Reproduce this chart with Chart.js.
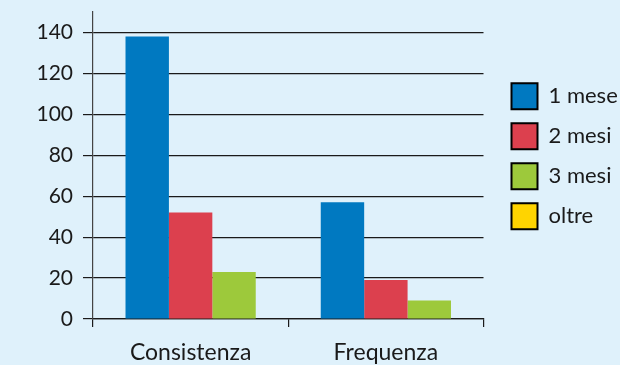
<!DOCTYPE html>
<html>
<head>
<meta charset="utf-8">
<script src="https://cdn.jsdelivr.net/npm/chart.js@4.4.1/dist/chart.umd.min.js"></script>
<style>
  html, body { margin: 0; padding: 0; overflow: hidden; background: #dff1fb; }
  #wrap { position: relative; width: 650px; height: 365px; }
</style>
</head>
<body>
<div id="wrap"><canvas id="durata"></canvas></div>
<script>
// categories and series
const categories = ['Consistenza', 'Frequenza'];
const seriesNames = ['1 mese', '2 mesi', '3 mesi', 'oltre'];
const unMese = [138, 57];
const dueMesi = [52, 19];
const treMesi = [23, 9];
const oltre = [0, 0];
const yStep = 20;
const yMax = 150;

const colors = ['#0079c1', '#dc404e', '#9dc93b', '#ffd400'];
const ink = '#1a1a1a';
const family = 'Lato, "Open Sans", sans-serif';

const series = [unMese, dueMesi, treMesi, oltre];

// the legend box is narrower than its labels, let them run to the canvas edge
const legendRoom = {
    id: 'legendRoom',
    afterLayout(chart) {
        chart.legend.right = chart.width;
    }
};

const ctx = document.getElementById('durata').getContext('2d');
const durataChart = new Chart(ctx, {
    type: 'bar',
    data: {
        labels: categories,
        datasets: series.map((values, i) => ({
            label: seriesNames[i],
            data: values,
            backgroundColor: colors[i],
            borderWidth: 0,
            // 'oltre' has no bars, only its legend entry
            hidden: i === 3
        }))
    },
    plugins: [legendRoom],
    options: {
        responsive: true,
        maintainAspectRatio: false,
        animation: false,
        categoryPercentage: 0.667,
        barPercentage: 1,
        layout: { padding: { top: 12, right: 53, left: 0, bottom: 0 } },
        scales: {
            x: {
                grid: { drawOnChartArea: false, color: ink, tickLength: 8, lineWidth: 1.2 },
                border: { color: ink, width: 1.2 },
                ticks: { color: ink, padding: 12, font: { family: family, size: 23 } },
                afterFit(scale) { scale.height = 46; }
            },
            y: {
                min: 0,
                max: yMax,
                grid: { color: ink, tickLength: 10, lineWidth: 1.2 },
                border: { color: '#444', width: 1.2 },
                ticks: {
                    stepSize: yStep,
                    includeBounds: false,
                    color: ink,
                    padding: 10,
                    font: { family: family, size: 21 }
                },
                afterFit(scale) {
                    scale.width = 93;
                    scale.paddingTop = 0;
                }
            },
            // empty axis that only leaves room between plot and legend
            gap: {
                type: 'linear',
                position: 'right',
                grid: { display: false },
                border: { display: false },
                ticks: { display: false },
                afterFit(scale) { scale.width = 14; }
            }
        },
        plugins: {
            tooltip: { enabled: false },
            legend: {
                position: 'right',
                align: 'start',
                onClick: null,
                title: { display: true, text: '', font: { size: 1 }, padding: { top: 56, bottom: 0 } },
                labels: {
                    color: ink,
                    boxWidth: 26,
                    boxHeight: 26,
                    padding: 14,
                    font: { family: family, size: 22 },
                    generateLabels(chart) {
                        const items = Chart.defaults.plugins.legend.labels.generateLabels(chart);
                        items.forEach(item => {
                            item.hidden = false;
                            item.lineWidth = 2;
                            item.strokeStyle = '#000';
                        });
                        return items;
                    }
                }
            }
        }
    }
});
</script>
</body>
</html>
